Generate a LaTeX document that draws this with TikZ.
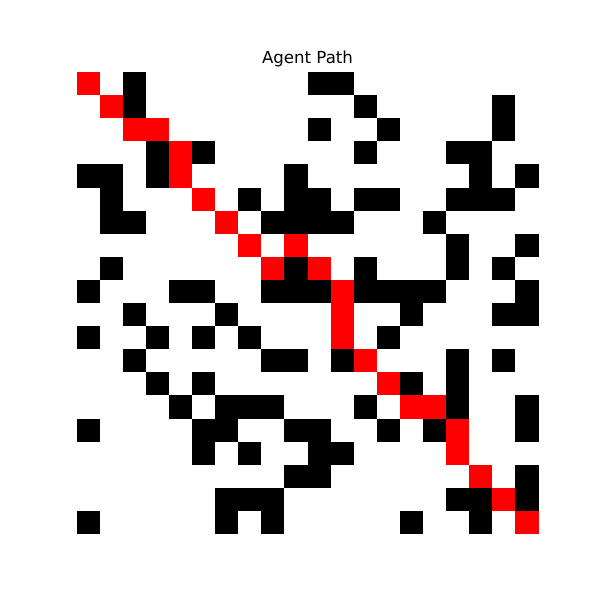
\documentclass[tikz,border=0pt]{standalone}
\usepackage{fontspec}
\setmainfont{DejaVu Sans}
\definecolor{pathred}{RGB}{255,0,0}
\tikzset{
    every node/.style={font=\fontsize{12}{14}\selectfont},
    wall/.style={fill=black},
    trail/.style={fill=pathred}
}

\begin{document}
\begin{tikzpicture}[x=5.8674mm,y=-5.8674mm]
\useasboundingbox (-3.312,-3.117) rectangle (22.662,22.857);
% obstacles, row by row
\foreach \r/\cols in {0/{2,10,11},1/{2,12,18},2/{10,13,18},3/{3,5,12,16,17},
    4/{0,1,3,9,17,19},5/{1,7,9,10,12,13,16,17,18},6/{1,2,8,9,10,11,15},
    7/{16,19},8/{1,9,12,16,18},9/{0,4,5,8,9,10,12,13,14,15,19},
    10/{2,6,14,18,19},11/{0,3,5,7,13},12/{2,8,9,11,16,18},13/{3,5,14,16},
    14/{4,6,7,8,12,16,19},15/{0,5,6,9,10,13,15,19},16/{5,7,10,11},
    17/{9,10,19},18/{6,7,8,16,17,19},19/{0,6,8,14,17}}{
    \foreach \c in \cols{
        \fill[wall] (\c,\r) rectangle ++(1,1);
    }
}
% agent path
\foreach \r/\c in {0/0,1/1,2/2,2/3,3/4,4/4,5/5,6/6,7/7,8/8,7/9,8/10,9/11,
    10/11,11/11,12/12,13/13,14/14,14/15,15/16,16/16,17/17,18/18,19/19}{
    \fill[trail] (\c,\r) rectangle ++(1,1);
}
\node[anchor=base] (title) at (10,-0.36) {Agent Path};
\end{tikzpicture}
\end{document}
